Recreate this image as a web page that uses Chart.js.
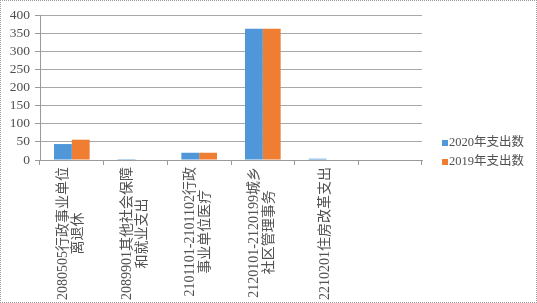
<!DOCTYPE html>
<html><head><meta charset="utf-8">
<script src="https://cdn.jsdelivr.net/npm/chart.js@4"></script>
<style>
html,body{margin:0;padding:0;background:#fff;}
#wrap{position:relative;width:537px;height:303px;box-sizing:border-box;border:1px dotted #9a9a9a;}
#c{position:absolute;left:-1px;top:-1px;}
</style></head>
<body><div id="wrap"><canvas id="c" width="537" height="303"></canvas></div>
<script>
const categories = [
  ["2080505行政事业单位","离退休"],
  ["2089901其他社会保障","和就业支出"],
  ["2101101-2101102行政","事业单位医疗"],
  ["2120101-2120199城乡","社区管理事务"],
  ["2210201住房改革支出"],
  [""]
];
const seriesNames = ["2020年支出数","2019年支出数"];
const values2020 = [44, 2.5, 20, 362, 3.5, null];
const values2019 = [56, 0, 20, 362, 0, null];
const yTicks = [0,50,100,150,200,250,300,350,400];
const colors = ["#4f97d8","#ef7d32"];

const FONT = "'Liberation Serif','Noto Sans CJK SC',serif";

const xLabelPlugin = {
  id:'xLabels',
  afterDraw(chart){
    const ctx = chart.ctx, xs = chart.scales.x;
    const top = chart.chartArea.bottom + 7;
    ctx.save();
    ctx.font = "14px " + FONT;
    ctx.fillStyle = "#505050";
    ctx.textBaseline = "middle";
    ctx.textAlign = "right";
    const lh = 15;
    categories.forEach((lines,i)=>{
      const cx = xs.getPixelForValue(i) - 1;
      const widths = lines.map(l=>ctx.measureText(l).width);
      const w = Math.max(...widths);
      const n = lines.length;
      lines.forEach((l,j)=>{
        const x = cx + (j-(n-1)/2)*lh;
        const y = top + (w - widths[j])/2;
        ctx.save();
        ctx.translate(x,y);
        ctx.rotate(-Math.PI/2);
        ctx.fillText(l,0,0);
        ctx.restore();
      });
    });
    ctx.restore();
  }
};

const legendPlugin = {
  id:'sideLegend',
  afterDraw(chart){
    const ctx = chart.ctx;
    ctx.save();
    ctx.font = "12.5px " + FONT;
    ctx.textBaseline = "middle";
    ctx.textAlign = "left";
    const ys = [143,162];
    chart.data.datasets.forEach((ds,i)=>{
      ctx.fillStyle = ds.backgroundColor;
      ctx.fillRect(442, ys[i]-3, 6, 6);
      ctx.fillStyle = "#505050";
      ctx.fillText(ds.label, 449, ys[i]);
    });
    ctx.restore();
  }
};

new Chart(document.getElementById('c'),{
  type:'bar',
  data:{
    labels: categories.map(c=>c.join('')),
    datasets:[
      {label:seriesNames[0], data:values2020, backgroundColor:colors[0], categoryPercentage:0.56, barPercentage:1},
      {label:seriesNames[1], data:values2019, backgroundColor:colors[1], categoryPercentage:0.56, barPercentage:1}
    ]
  },
  options:{
    responsive:false,
    animation:false,
    devicePixelRatio:1,
    layout:{padding:{left:0,right:115,top:15,bottom:0}},
    plugins:{legend:{display:false},tooltip:{enabled:false}},
    scales:{
      x:{
        ticks:{display:false},
        grid:{display:true,drawOnChartArea:false,drawTicks:true,tickLength:5,color:"#9a9a9a",offset:true},
        border:{display:true,color:"#9a9a9a",dash:[2,1]},
        afterFit(s){ s.height = 303-160; }
      },
      y:{
        min:0,max:400,
        afterBuildTicks(s){ s.ticks = yTicks.map(v=>({value:v})); },
        ticks:{font:{family:FONT,size:13.5},color:"#505050",padding:5,autoSkip:false,stepSize:50},
        grid:{color:"#a8a8a8",borderDash:[2,2],drawTicks:true,tickLength:5,tickBorderDash:[],tickColor:"#9a9a9a"},
        border:{display:true,color:"#9a9a9a"},
        afterFit(s){ s.width = 40; }
      }
    }
  },
  plugins:[xLabelPlugin,legendPlugin]
});
</script>
</body></html>
